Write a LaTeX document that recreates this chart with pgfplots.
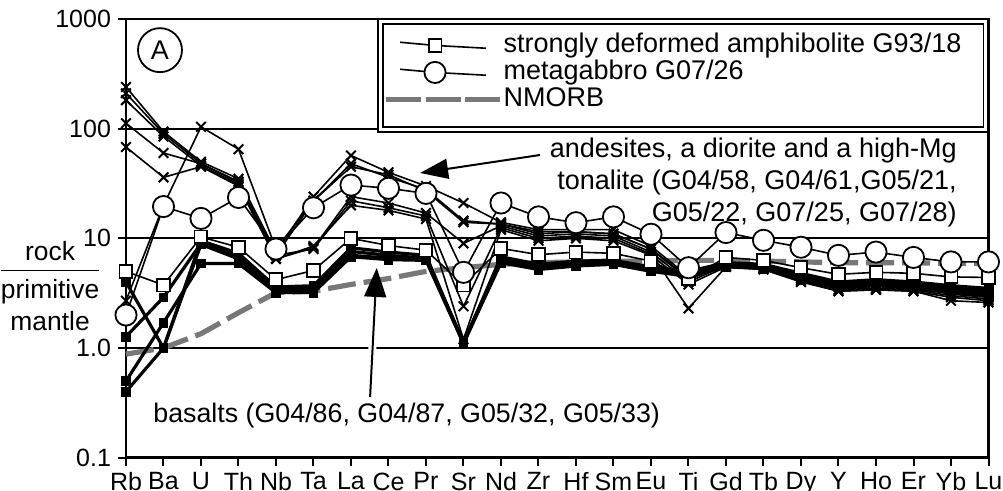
\documentclass[border=0pt]{standalone}
\usepackage{pgfplots}
\usepackage{pgfplotstable}
\pgfplotsset{compat=1.18}
\usetikzlibrary{arrows.meta}
\usepackage{fontspec}
\setmainfont{Liberation Sans}
\definecolor{nmgray}{RGB}{120,120,120}

% reference samples: square = G93/18, circle = G07/26, nm = NMORB
\pgfplotstableread{
x sq ci nm
0 5.0 2.0 0.88
1 3.75 19.5 1.0
2 10.3 15.2 1.35
3 8.3 23.6 2.1
4 4.2 8.0 3.2
5 5.1 19.0 3.3
6 10.0 30.6 3.8
7 8.6 28.6 4.3
8 7.8 25.7 5.0
9 3.75 4.9 5.4
10 8.1 21 5.8
11 7.1 15.7 6.0
12 7.5 13.9 6.1
13 7.3 15.7 6.2
14 6.2 10.9 6.2
15 4.3 5.4 6.3
16 6.7 11.3 6.3
17 6.3 9.6 6.2
18 5.4 8.3 6.1
19 4.7 7.0 6.0
20 4.9 7.5 6.0
21 4.8 6.7 6.0
22 4.45 6.1 5.9
23 4.4 6.1 5.9
}\reftab

% andesites, diorite, high-Mg tonalite
\pgfplotstableread{
x a1 a2 a3 a4 a5 a6
0 240 210 182 112 68 2.7
1 94 90 85 60 36 20
2 50 48 46 48 45 104
3 35 33 31 32 30 65
4 7.5 7.0 6.5 7.0 6.5 8
5 24 22 8.2 8.0 8.5 22
6 57 48 24 22 20 45
7 40 36 21 19 18 38
8 30 28 17 16 15 27
9 21 14.5 9 2.4 1.2 14
10 14 13.5 13 12.5 12 13.5
11 12 11 10.5 10 9.5 11.5
12 12 11.5 11 10.5 10 11.5
13 12 11 10.5 10 9.5 11
14 8.5 8.0 7.5 7.2 7.0 8.0
15 4.5 4.2 4.0 2.3 3.8 4.4
16 6.0 5.8 5.7 5.5 5.5 5.9
17 5.8 5.6 5.4 5.3 5.2 5.7
18 4.8 4.5 4.3 4.1 4.0 4.6
19 3.9 3.6 3.4 3.3 3.3 3.7
20 4.0 3.7 3.5 3.4 3.4 3.8
21 3.9 3.6 3.4 3.3 3.3 3.7
22 3.4 3.1 3.0 2.7 2.9 3.2
23 3.2 2.9 2.8 2.6 2.7 3.0
}\andes

% basalts
\pgfplotstableread{
x b1 b2 b3 b4
0 4.0 1.27 0.4 0.5
1 1.0 2.9 1.0 1.7
2 9.5 9.0 8.8 5.9
3 7.3 6.8 6.5 5.9
4 3.6 3.4 3.3 3.2
5 3.7 3.5 3.3 3.2
6 8.2 7.6 7.0 6.8
7 7.5 7.0 6.6 6.4
8 7.0 6.6 6.4 6.3
9 1.1 1.1 1.15 1.1
10 6.8 6.4 6.2 6.0
11 5.8 5.5 5.3 5.2
12 6.2 5.9 5.7 5.6
13 6.3 6.0 5.9 5.8
14 5.5 5.3 5.1 5.0
15 5.0 4.8 4.6 4.5
16 6.0 5.8 5.6 5.5
17 5.8 5.6 5.4 5.3
18 4.8 4.5 4.3 4.2
19 4.0 3.8 3.6 3.5
20 4.2 4.0 3.8 3.7
21 4.0 3.8 3.6 3.5
22 3.7 3.5 3.3 3.2
23 3.5 3.3 3.1 3.0
}\bas

\pgfplotsset{
  andes/.style={black, line width=0.8pt, mark=x, mark size=3.4pt, mark options={line width=1pt}},
  basalt/.style={black, line width=1.6pt, mark=square*, mark size=2.2pt, mark options={line width=0.4pt}},
  sqs/.style={black, line width=0.8pt, mark=square*, mark size=3.2pt, mark options={fill=white, line width=0.9pt}},
  cis/.style={black, line width=0.8pt, mark=*, mark size=5.3pt, mark options={fill=white, line width=0.9pt}},
  nmorb/.style={nmgray, line width=2.6pt, dash pattern=on 14pt off 4pt},
  markleg/.style={legend image code/.code={\path (-7pt,0pt) (50pt,0pt);\draw[mark repeat=2,mark phase=2,##1] plot coordinates {(0pt,1.6pt) (17.5pt,0pt) (43pt,-1.4pt)};}},
  nmleg/.style={legend image code/.code={\draw[##1, dash pattern=on 17.5pt off 2.25pt] (-7pt,0pt) -- (50pt,0pt);}},
}

\begin{document}
\begin{tikzpicture}
\begin{axis}[name=ax,
  scale only axis, width=431.25pt, height=219.35pt,
  ymode=log, ymin=0.1, ymax=1000, xmin=0, xmax=23,
  xtick={0,...,23},
  xticklabels={Rb,Ba,U,Th,Nb,Ta,La,Ce,Pr,Sr,Nd,Zr,Hf,Sm,Eu,Ti,Gd,Tb,Dy,Y,Ho,Er,Yb,Lu},
  ytick={0.1,1,10,100,1000}, yticklabels={0.1,1.0,10,100,1000},
  yminorticks=false,
  ymajorgrids, grid style={black, line width=0.9pt},
  axis line style={line width=1.4pt},
  tick style={black, line width=1pt},
  tick align=outside, major tick length=4pt,
  xtick pos=left, ytick pos=left,
  tick label style={font=\fontsize{12.5}{14}\selectfont},
  /pgf/number format/assume math mode=true,
  legend style={at={(0.298,0.968)}, anchor=north west, draw=none, fill=none,
    inner sep=0pt,
    font=\fontsize{13.5}{15}\selectfont, row sep=1.5pt, column sep=0.5pt,
    nodes={inner sep=0pt, text height=9.5pt, text depth=2.5pt}},
  legend cell align=left,
  clip=false,
]
\addlegendimage{sqs, markleg}
\addlegendentry{strongly deformed amphibolite G93/18}
\addlegendimage{cis, markleg}
\addlegendentry{metagabbro G07/26}
\addlegendimage{nmorb, nmleg}
\addlegendentry{NMORB}

\addplot[nmorb, forget plot] table[x=x, y=nm] {\reftab};

\addplot[andes, forget plot] table[x=x, y=a1] {\andes};
\addplot[andes, forget plot] table[x=x, y=a2] {\andes};
\addplot[andes, forget plot] table[x=x, y=a3] {\andes};
\addplot[andes, forget plot] table[x=x, y=a4] {\andes};
\addplot[andes, forget plot] table[x=x, y=a5] {\andes};
\addplot[andes, forget plot] table[x=x, y=a6] {\andes};

\addplot[basalt, forget plot] table[x=x, y=b1] {\bas};
\addplot[basalt, forget plot] table[x=x, y=b2] {\bas};
\addplot[basalt, forget plot] table[x=x, y=b3] {\bas};
\addplot[basalt, forget plot] table[x=x, y=b4] {\bas};

\addplot[sqs, forget plot] table[x=x, y=sq] {\reftab};
\addplot[cis, forget plot] table[x=x, y=ci] {\reftab};

% legend frame (double)
\fill[white] (rel axis cs:0.2922,0.7424) rectangle (rel axis cs:1,1);
\draw[line width=1.3pt] (rel axis cs:0.2922,0.7424) rectangle (rel axis cs:1,1);
\draw[line width=0.6pt] ([shift={(2.5pt,2.5pt)}]rel axis cs:0.2922,0.7424) rectangle ([shift={(-2.5pt,-2.5pt)}]rel axis cs:1,1);

% annotations
\node[draw, circle, line width=0.9pt, minimum size=22pt, inner sep=0pt,
  font=\fontsize{13.5}{15}\selectfont] at (rel axis cs:0.0394,0.929) {A};
\node[anchor=north east, align=right, inner sep=0pt,
  font=\fontsize{13.5}{15.8}\selectfont] at (rel axis cs:0.9635,0.729)
  {andesites, a diorite and a high-Mg\\tonalite (G04/58, G04/61,G05/21,\\G05/22, G07/25, G07/28)};
\draw[line width=1pt, -{Triangle[length=14pt,width=10pt]}]
  (rel axis cs:0.48,0.690) -- (rel axis cs:0.341,0.649);
\node[anchor=west, inner sep=0pt, font=\fontsize{13.4}{16}\selectfont]
  at (rel axis cs:0.0313,0.095) {basalts (G04/86, G04/87, G05/32, G05/33)};
\draw[white, line width=4pt, shorten >=16pt]
  (rel axis cs:0.283,0.155) -- (rel axis cs:0.2907,0.4325);
\draw[line width=1pt, -{Triangle[length=14.5pt,width=11pt]}]
  (rel axis cs:0.283,0.138) -- (rel axis cs:0.2907,0.4325);
\node[font=\fontsize{13.2}{16}\selectfont, inner sep=0pt] at (rel axis cs:-0.088,0.385)
  {\begin{tabular}{@{}c@{}}rock\\[0pt]\hline\rule{0pt}{14pt}primitive\\ mantle\end{tabular}};
\end{axis}
\pgfresetboundingbox
\path[use as bounding box] ([shift={(-63pt,-16.15pt)}]ax.south west) rectangle ([shift={(7.25pt,9.5pt)}]ax.north east);
\end{tikzpicture}
\end{document}
